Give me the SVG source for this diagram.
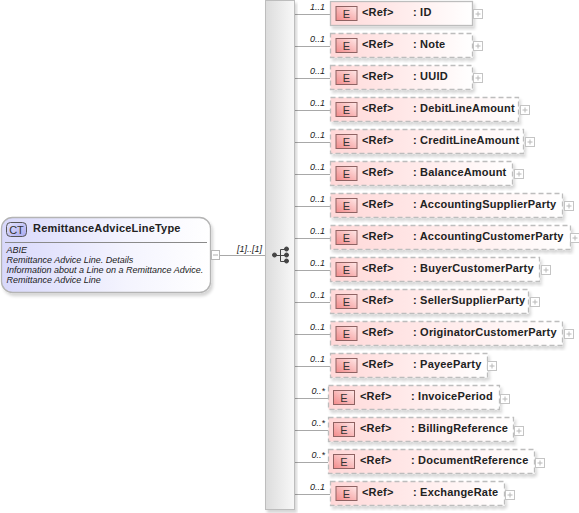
<svg xmlns="http://www.w3.org/2000/svg" width="579" height="513" viewBox="0 0 579 513">
<defs>
<linearGradient id="ct" x1="0" y1="0" x2="1" y2="0"><stop offset="0" stop-color="#d8d8fb"/><stop offset="0.6" stop-color="#f4f4fe"/><stop offset="1" stop-color="#ffffff"/></linearGradient>
<linearGradient id="el" x1="0" y1="0" x2="1" y2="0"><stop offset="0" stop-color="#ffd8d8"/><stop offset="1" stop-color="#ffffff"/></linearGradient>
<linearGradient id="seq" x1="0" y1="0" x2="1" y2="0"><stop offset="0" stop-color="#dcdcdc"/><stop offset="1" stop-color="#f8f8f8"/></linearGradient>
<linearGradient id="eb" x1="0" y1="1" x2="1" y2="0"><stop offset="0" stop-color="#f28a8a"/><stop offset="1" stop-color="#ffe8e8"/></linearGradient>
<linearGradient id="ctb" x1="0" y1="0" x2="1" y2="1"><stop offset="0" stop-color="#e4e4ff"/><stop offset="1" stop-color="#a8a8ee"/></linearGradient>
<filter id="sh" x="-5%" y="-10%" width="115%" height="130%"><feDropShadow dx="2" dy="3" stdDeviation="1.5" flood-color="#000" flood-opacity="0.16"/></filter>
<g id="plus"><rect x="0" y="0" width="9" height="9" fill="#fff" stroke="#c4c4c4"/><path d="M2 4.500H7M4.500 2V7" stroke="#b8b8b8" fill="none"/></g>
<g id="ebadge"><rect x="0" y="0" width="21" height="14" fill="url(#eb)" stroke="#8e6262"/><text x="10.500" y="11.500" class="e">E</text></g>
</defs>
<style>
text{font-family:"Liberation Sans",Arial,sans-serif;fill:#222}
.n{font-size:11px;font-weight:bold;letter-spacing:.2px}
.e{font-size:11px;text-anchor:middle;fill:#333}
.m{font-size:9px;font-style:italic;text-anchor:end}
.d{font-size:9px;font-style:italic}
.b{fill:url(#el);stroke:#bdbdbd;stroke-width:1.3;filter:url(#sh)}
.o{stroke-dasharray:5 3}
.c{stroke:#a8a8a8;fill:none}
</style>
<g id="connectors">
<path class="c" d="M220 255.500H265"/>
<path class="c" d="M295 14.500H330M295 46.500H330M295 78.500H330M295 110.500H330M295 142.500H330M295 174.500H330M295 206.500H330M295 238.500H330M295 270.500H330M295 302.500H330M295 334.500H330M295 366.500H330M295 398.500H328M295 430.500H328M295 462.500H328M295 494.500H330"/>
<text class="m" x="262" y="252">[1]..[1]</text>
<text class="m" x="325" y="10">1..1</text><text class="m" x="325" y="42">0..1</text><text class="m" x="325" y="74">0..1</text><text class="m" x="325" y="106">0..1</text><text class="m" x="325" y="138">0..1</text><text class="m" x="325" y="170">0..1</text><text class="m" x="325" y="202">0..1</text><text class="m" x="325" y="234">0..1</text><text class="m" x="325" y="266">0..1</text><text class="m" x="325" y="298">0..1</text><text class="m" x="325" y="330">0..1</text><text class="m" x="325" y="362">0..1</text><text class="m" x="325" y="394">0..*</text><text class="m" x="325" y="426">0..*</text><text class="m" x="325" y="458">0..*</text><text class="m" x="325" y="490">0..1</text>
</g>
<g id="type">
<rect x="1.500" y="217.500" width="209" height="75" rx="11" fill="url(#ct)" stroke="#b4b4b4" stroke-width="1.300" filter="url(#sh)"/>
<rect x="6.500" y="222.500" width="20" height="14" rx="4" fill="url(#ctb)" stroke="#555"/>
<text x="16.500" y="234" style="font-size:11px;text-anchor:middle;fill:#333">CT</text>
<text x="33" y="232" style="font-size:11px;font-weight:bold;letter-spacing:.2px">RemittanceAdviceLineType</text>
<path d="M5 242.500H207" stroke="#8a8a8a" fill="none"/>
<text class="d" x="6.500" y="253">ABIE</text>
<text class="d" x="6.500" y="263">Remittance Advice Line. Details</text>
<text class="d" x="6.500" y="273">Information about a Line on a Remittance Advice.</text>
<text class="d" x="6.500" y="283">Remittance Advice Line</text>
<rect x="211.500" y="250.500" width="8" height="9" fill="#fff" stroke="#b8b8b8"/><path d="M213 255H218" stroke="#b0b0b0"/>
</g>
<g id="sequence">
<rect x="265.500" y="0.500" width="29" height="509" fill="url(#seq)" stroke="#bdbdbd" filter="url(#sh)"/>
<g fill="#444" stroke="#444"><circle cx="274.500" cy="255" r="2"/><circle cx="286.500" cy="249" r="2"/><circle cx="286.500" cy="255" r="2"/><circle cx="286.500" cy="261" r="2"/><path d="M274.500 255.500H286.500M280.500 249.500V261.500M280.500 249.500H286.500M280.500 261.500H286.500" fill="none"/></g>
</g>
<g id="n1"><rect class="b" x="330.500" y="1.500" width="142" height="24"/><use href="#ebadge" x="336" y="6.500"/><text class="n" x="362" y="15.500">&lt;Ref&gt;</text><text class="n" x="413" y="15.500">: ID</text><use href="#plus" x="473.500" y="9.500"/></g>
<g id="n2"><rect class="b o" x="330.500" y="33.500" width="142" height="24"/><use href="#ebadge" x="336" y="38.500"/><text class="n" x="362" y="47.500">&lt;Ref&gt;</text><text class="n" x="413" y="47.500">: Note</text><use href="#plus" x="473.500" y="41.500"/></g>
<g id="n3"><rect class="b o" x="330.500" y="65.500" width="142" height="24"/><use href="#ebadge" x="336" y="70.500"/><text class="n" x="362" y="79.500">&lt;Ref&gt;</text><text class="n" x="413" y="79.500">: UUID</text><use href="#plus" x="473.500" y="73.500"/></g>
<g id="n4"><rect class="b o" x="330.500" y="97.500" width="188" height="24"/><use href="#ebadge" x="336" y="102.500"/><text class="n" x="362" y="111.500">&lt;Ref&gt;</text><text class="n" x="413" y="111.500">: DebitLineAmount</text><use href="#plus" x="520.500" y="105.500"/></g>
<g id="n5"><rect class="b o" x="330.500" y="129.500" width="193" height="24"/><use href="#ebadge" x="336" y="134.500"/><text class="n" x="362" y="143.500">&lt;Ref&gt;</text><text class="n" x="413" y="143.500">: CreditLineAmount</text><use href="#plus" x="525.500" y="137.500"/></g>
<g id="n6"><rect class="b o" x="330.500" y="161.500" width="182" height="24"/><use href="#ebadge" x="336" y="166.500"/><text class="n" x="362" y="175.500">&lt;Ref&gt;</text><text class="n" x="413" y="175.500">: BalanceAmount</text><use href="#plus" x="514.500" y="169.500"/></g>
<g id="n7"><rect class="b o" x="330.500" y="193.500" width="232" height="24"/><use href="#ebadge" x="336" y="198.500"/><text class="n" x="362" y="207.500">&lt;Ref&gt;</text><text class="n" x="413" y="207.500">: AccountingSupplierParty</text><use href="#plus" x="564.500" y="201.500"/></g>
<g id="n8"><rect class="b o" x="330.500" y="225.500" width="240" height="24"/><use href="#ebadge" x="336" y="230.500"/><text class="n" x="362" y="239.500">&lt;Ref&gt;</text><text class="n" x="413" y="239.500">: AccountingCustomerParty</text><use href="#plus" x="570.500" y="233.500"/></g>
<g id="n9"><rect class="b o" x="330.500" y="257.500" width="209" height="24"/><use href="#ebadge" x="336" y="262.500"/><text class="n" x="362" y="271.500">&lt;Ref&gt;</text><text class="n" x="413" y="271.500">: BuyerCustomerParty</text><use href="#plus" x="541.500" y="265.500"/></g>
<g id="n10"><rect class="b o" x="330.500" y="289.500" width="198" height="24"/><use href="#ebadge" x="336" y="294.500"/><text class="n" x="362" y="303.500">&lt;Ref&gt;</text><text class="n" x="413" y="303.500">: SellerSupplierParty</text><use href="#plus" x="530.500" y="297.500"/></g>
<g id="n11"><rect class="b o" x="330.500" y="321.500" width="232" height="24"/><use href="#ebadge" x="336" y="326.500"/><text class="n" x="362" y="335.500">&lt;Ref&gt;</text><text class="n" x="413" y="335.500">: OriginatorCustomerParty</text><use href="#plus" x="564.500" y="329.500"/></g>
<g id="n12"><rect class="b o" x="330.500" y="353.500" width="157" height="24"/><use href="#ebadge" x="336" y="358.500"/><text class="n" x="362" y="367.500">&lt;Ref&gt;</text><text class="n" x="413" y="367.500">: PayeeParty</text><use href="#plus" x="487.500" y="361.500"/></g>
<g id="n13"><rect class="b o" x="328.500" y="385.500" width="171" height="24"/><use href="#ebadge" x="333.500" y="390.500"/><text class="n" x="360" y="399.500">&lt;Ref&gt;</text><text class="n" x="411" y="399.500">: InvoicePeriod</text><use href="#plus" x="500.500" y="394.500"/></g>
<g id="n14"><rect class="b o" x="328.500" y="417.500" width="185" height="24"/><use href="#ebadge" x="333.500" y="422.500"/><text class="n" x="360" y="431.500">&lt;Ref&gt;</text><text class="n" x="411" y="431.500">: BillingReference</text><use href="#plus" x="514.500" y="426.500"/></g>
<g id="n15"><rect class="b o" x="328.500" y="449.500" width="206" height="24"/><use href="#ebadge" x="333.500" y="454.500"/><text class="n" x="360" y="463.500">&lt;Ref&gt;</text><text class="n" x="411" y="463.500">: DocumentReference</text><use href="#plus" x="535.500" y="458.500"/></g>
<g id="n16"><rect class="b o" x="330.500" y="481.500" width="174" height="24"/><use href="#ebadge" x="336" y="486.500"/><text class="n" x="362" y="495.500">&lt;Ref&gt;</text><text class="n" x="413" y="495.500">: ExchangeRate</text><use href="#plus" x="505.500" y="490.500"/></g>
</svg>
